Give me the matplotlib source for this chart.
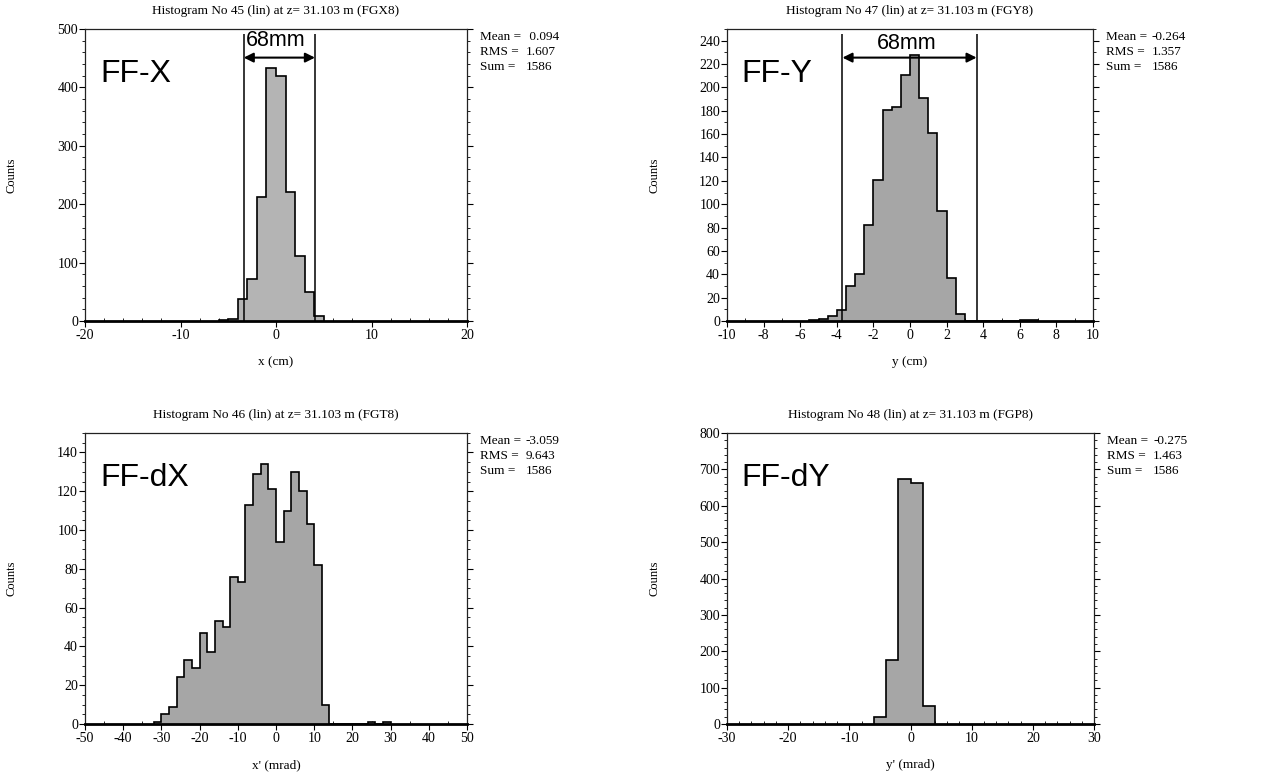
import numpy as np
import matplotlib
matplotlib.use("Agg")
import matplotlib.pyplot as plt
from matplotlib.ticker import MultipleLocator

plt.rcParams["axes.unicode_minus"] = False

# ---- data ----
# FF-X : x (cm), 1 cm bins
fx_edges = np.arange(-6, 6, 1.0)
fx_counts = [1, 4, 37, 72, 213, 433, 419, 221, 111, 49, 8]

# FF-Y : y (cm), 0.5 cm bins
fy_edges = np.arange(-5.5, 7.01, 0.5)
fy_counts = [1, 2, 4, 9, 30, 40, 82, 121, 181, 183, 211, 228, 191, 161, 94, 37, 6,
             0, 0, 0, 0, 0, 0, 1, 1]

# FF-dX : x' (mrad), 2 mrad bins
fdx_edges = np.arange(-32, 30.1, 2.0)
fdx_counts = [1, 5, 9, 24, 33, 29, 47, 37, 53, 50, 76, 73, 113, 129, 134, 121, 94,
              110, 130, 120, 103, 82, 10, 0, 0, 0, 0, 0, 1, 0, 1]

# FF-dY : y' (mrad), 2 mrad bins
fdy_edges = np.arange(-6, 4.1, 2.0)
fdy_counts = [19, 175, 674, 662, 50]

titles = ["Histogram No 45 (lin) at z= 31.103 m (FGX8)",
          "Histogram No 47 (lin) at z= 31.103 m (FGY8)",
          "Histogram No 46 (lin) at z= 31.103 m (FGT8)",
          "Histogram No 48 (lin) at z= 31.103 m (FGP8)"]
tags = ["FF-X", "FF-Y", "FF-dX", "FF-dY"]
xlabels = ["x (cm)", "y (cm)", "x' (mrad)", "y' (mrad)"]
means = [" 0.094", "-0.264", "-3.059", "-0.275"]
rmss = ["1.607", "1.357", "9.643", "1.463"]
sums = ["1586", "1586", "1586", "1586"]

# 68mm acceptance markers (cm) for the position plots
fx_cut = [-3.38, 4.08]
fy_cut = [-3.69, 3.64]

W, H = 1261, 780
fig = plt.figure(figsize=(W / 100, H / 100), dpi=100)
serif = "Liberation Serif"
sans = "Liberation Sans"

# (left, top, right, bottom) in pixels
boxes = [(85, 29, 467, 321), (727, 29, 1093, 321),
         (85, 433, 467, 724), (727, 433, 1094, 724)]
hists = [(fx_edges, fx_counts), (fy_edges, fy_counts),
         (fdx_edges, fdx_counts), (fdy_edges, fdy_counts)]
xlims = [(-20, 20), (-10, 10), (-50, 50), (-30, 30)]
ylims = [(0, 500), (0, 250), (0, 150), (0, 800)]
xmaj = [10, 2, 10, 10]
xmin = [2, 1, 5, 2]
ymaj = [100, 20, 20, 100]
ymin = [20, 10, 5, 20]
fills = ["#b4b4b4", "#a6a6a6", "#a6a6a6", "#a6a6a6"]

axes = []
for i, (l, t, r, b) in enumerate(boxes):
    ax = fig.add_axes([l / W, 1 - b / H, (r - l) / W, (b - t) / H])
    axes.append(ax)
    edges, counts = hists[i]
    ax.stairs(counts, edges, fill=True, color=fills[i], zorder=2)
    ax.stairs(counts, edges, color="black", linewidth=1.2, zorder=3)
    ax.set_xlim(*xlims[i])
    ax.set_ylim(*ylims[i])
    ax.xaxis.set_major_locator(MultipleLocator(xmaj[i]))
    ax.xaxis.set_minor_locator(MultipleLocator(xmin[i]))
    ax.yaxis.set_major_locator(MultipleLocator(ymaj[i]))
    ax.yaxis.set_minor_locator(MultipleLocator(ymin[i]))
    if i == 1:
        ax.set_yticks(np.arange(0, 241, 20))
    ax.tick_params(axis="y", which="both", direction="out", right=True,
                   labelsize=10, pad=1)
    ax.tick_params(axis="y", which="major", length=4)
    ax.tick_params(axis="y", which="minor", length=2)
    ax.tick_params(axis="x", which="major", direction="out", length=4,
                   labelsize=10, pad=2)
    ax.tick_params(axis="x", which="minor", direction="in", length=2)
    for lab in ax.get_xticklabels() + ax.get_yticklabels():
        lab.set_fontfamily(serif)
    for s in ax.spines.values():
        s.set_linewidth(0.9)
        s.set_color("#222222")
    ax.spines["bottom"].set_linewidth(2)
    ax.spines["bottom"].set_color("black")
    ax.spines["bottom"].set_zorder(4)

    ax.set_title(titles[i], fontsize=9.5, family=serif, pad=11)
    ax.text(0.04, 0.845, tags[i], transform=ax.transAxes, fontsize=23,
            family=sans, va="center", ha="left")

    # stats box
    for k, (name, val) in enumerate([("Mean =", means[i]), ("RMS =", rmss[i]),
                                     ("Sum =", sums[i])]):
        yy = t + 8.5 + 14.8 * k
        fig.text((r + 13) / W, 1 - yy / H, name, fontsize=9.5, family=serif,
                 va="center", ha="left")
        fig.text((r + 59) / W, 1 - yy / H, val, fontsize=9.5, family=serif,
                 va="center", ha="left")

    fig.text((l - 73) / W, 1 - (t + b) / 2 / H, "Counts", rotation=90,
             fontsize=9, family=serif, va="center", ha="center")
    fig.text((l + r) / 2 / W, 1 - (b + 41) / H, xlabels[i], fontsize=9.5,
             family=serif, va="center", ha="center")

# 68mm markers
for ax, cut, ytop, yarr, ytxt, xtxt in [(axes[0], fx_cut, 491, 451, 481, 0.0),
                                        (axes[1], fy_cut, 245.5, 225.5, 238, -0.2)]:
    ax.vlines(cut, 0, ytop, color="black", linewidth=1.1, zorder=4)
    ax.annotate("", xy=(cut[1], yarr), xytext=(cut[0], yarr),
                arrowprops=dict(arrowstyle="<|-|>", color="black", lw=1.5,
                                mutation_scale=14, shrinkA=0, shrinkB=0),
                zorder=5)
    ax.text(xtxt, ytxt, "68mm", fontsize=15.5, family=sans, ha="center",
            va="center", zorder=5)

fig.savefig("out.png", dpi=100)
